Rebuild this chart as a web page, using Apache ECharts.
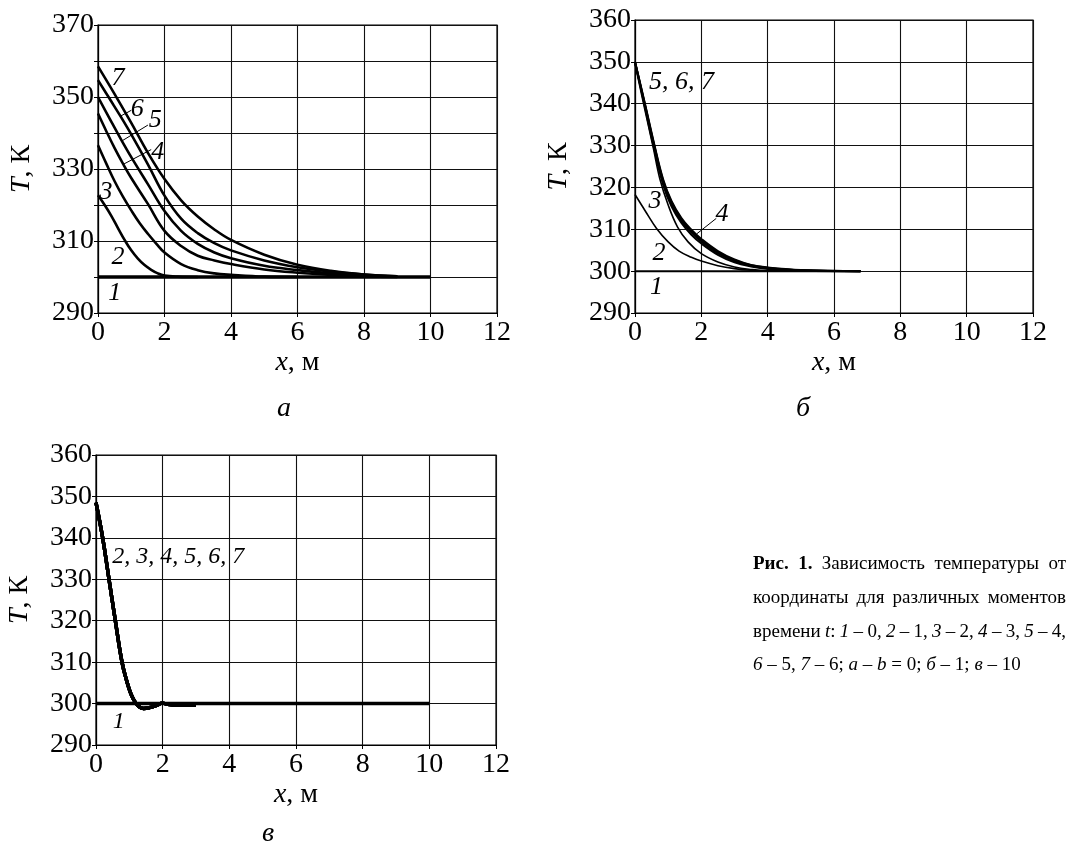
<!DOCTYPE html>
<html>
<head>
<meta charset="utf-8">
<script src="https://cdn.jsdelivr.net/npm/echarts/dist/echarts.min.js"></script>
<style>
  html, body { margin: 0; padding: 0; background: #fff; }
  #wrap { position: relative; width: 1069px; height: 857px; }
  #chart { position: absolute; left: 0; top: 0; width: 1069px; height: 857px; }
  .cap { position: absolute; left: 753px; width: 313px; font-family: "Liberation Serif", serif; font-size: 19px; line-height: 33.7px; color: #000; white-space: nowrap; }
</style>
</head>
<body>
<div id="wrap">
  <div id="chart"></div>
  <div class="cap just" style="top:546px"><span><b>Рис. 1.</b> Зависимость температуры от</span></div>
  <div class="cap just" style="top:580px"><span>координаты для различных моментов</span></div>
  <div class="cap just" style="top:614px"><span>времени <i>t</i>: <i>1</i> – 0, <i>2</i> – 1, <i>3</i> – 2, <i>4</i> – 3, <i>5</i> – 4,</span></div>
  <div class="cap" style="top:647px"><span><i>6</i> – 5, <i>7</i> – 6; <i>a</i> – <i>b</i> = 0; <i>б</i> – 1; <i>в</i> – 10</span></div>
</div>
<script>
// ---------- DATA ----------
// Panel а (b = 0): [x, T]
const a1 = [[0,300],[10,300]];
const a2 = [[0,322.7],[0.2,320],[0.4,317],[0.6,313.6],[0.8,310.3],[1.0,307.4],[1.2,305.1],[1.4,303.3],[1.6,302],[1.8,301],[2.0,300.4],[2.4,300.1],[3,300]];
const a3 = [[0,336.6],[0.25,331.5],[0.5,326.6],[0.75,322.3],[1,318.5],[1.25,315],[1.5,312],[1.75,309.3],[2,306.8],[2.5,303.6],[3,301.9],[3.5,301],[4,300.6],[5,300.1],[6,300]];
const a4 = [[0,345.4],[0.25,340.5],[0.5,335.8],[0.75,331.5],[1,327.5],[1.5,320.3],[2,312.8],[2.5,308.6],[3,305.9],[3.5,304.6],[4,303.6],[5,302.1],[6,301.2],[7,300.6],[8,300.2],[9,300]];
const a5 = [[0,350],[0.35,344],[0.7,338.1],[1,333.3],[1.5,325.8],[2,318.3],[2.5,312.8],[3,309.2],[3.5,306.8],[4,305.2],[5,303.1],[6,301.9],[7,301],[8,300.4],[9,300.1]];
const a6 = [[0,354.7],[0.35,349.5],[0.68,344.6],[1,339.6],[1.5,331.3],[2,322.6],[2.5,316.2],[3,312.2],[3.5,309.4],[4,307.4],[5,304.6],[6,302.7],[7,301.5],[8,300.7],[9,300.2]];
const a7 = [[0,358.5],[0.5,350.8],[1,342.8],[1.5,334.5],[2,327.2],[2.5,321.3],[3,316.8],[3.5,313.2],[4,310.3],[5,306.2],[6,303.4],[7,301.7],[8,300.7],[9,300.2]];

// Panel б (b = 1)
const b1 = [[0,300],[6.8,300]];
const b2 = [[0,318.3],[0.3,314.5],[0.65,310.2],[1,307],[1.33,304.8],[1.7,303.3],[2,302.4],[2.5,301.3],[3,300.6],[3.5,300.2],[4,300],[6.8,300]];
const b3 = [[0,349.5],[0.3,338.5],[0.55,329.5],[0.75,322],[1,315.8],[1.28,310.6],[1.6,307],[2,304.2],[2.5,302.2],[3,301],[3.5,300.4],[4,300.1],[6.8,300]];
const b4 = [[0,350],[0.3,339.2],[0.55,330.2],[0.85,320.6],[1.1,315.5],[1.4,311.5],[1.7,308.7],[2,306.6],[2.5,303.9],[3,302.1],[3.5,301.1],[4,300.5],[5,300.1],[6.8,300]];
const b5 = [[0,350],[0.3,339.6],[0.56,330.5],[0.85,321.2],[1.1,316.1],[1.4,312],[1.7,309.3],[2,307.1],[2.5,304.3],[3,302.4],[3.5,301.3],[4,300.7],[5,300.2],[6.8,300]];
const b6 = [[0,350],[0.3,339.8],[0.56,330.8],[0.85,321.6],[1.1,316.5],[1.4,312.4],[1.7,309.6],[2,307.4],[2.5,304.5],[3,302.6],[3.5,301.4],[4,300.8],[5,300.2],[6.8,300]];
const b7 = [[0,350],[0.3,340],[0.56,331],[0.85,321.9],[1.1,316.8],[1.4,312.7],[1.7,309.9],[2,307.7],[2.5,304.8],[3,302.8],[3.5,301.5],[4,300.9],[5,300.3],[6.8,300]];

// Panel в (b = 10): curves 2–7 coincide
const c1 = [[0,300],[10,300]];
const c2to7 = [[0,348.5],[0.2,340],[0.39,330],[0.58,320],[0.78,310],[0.92,305.5],[1.05,302.3],[1.18,300.3],[1.3,299.2],[1.43,298.8],[1.6,299],[1.8,299.5],[2.0,300.1],[2.15,299.8],[2.5,299.6],[3,299.6]];

// Curve number annotations: [x, T, text]
const aLabels = [[0.6,355.3,'7'],[1.18,346.5,'6'],[1.72,343.6,'5'],[1.8,334.8,'4'],[0.24,323.6,'3'],[0.6,305.4,'2'],[0.5,295.5,'1']];
const aLeaders = [[[0.66,344.6],[1.0,346.3]],[[0.72,337.8],[1.5,342.2]],[[0.76,331.3],[1.6,335.4]]];
const bLabels = [[1.4,345.2,'5, 6, 7'],[0.6,316.8,'3'],[2.62,313.6,'4'],[0.72,304.2,'2'],[0.65,296.2,'1']];
const bLeaders = [[[1.86,308.9],[2.45,312.6]]];
const cLabels = [[2.47,335.5,'2, 3, 4, 5, 6, 7'],[0.68,295.6,'1']];

// Axis ranges
const xRange = [0, 12, 2];
const yRangeA = [290, 370, 10];
const yRangeBC = [290, 360, 10];

// ---------- CHART ----------
const FONT = '"Liberation Serif", "Times New Roman", serif';
const chart = echarts.init(document.getElementById('chart'), null, { renderer: 'canvas' });

const grids = [
  { left: 98, top: 25, width: 399, height: 288 },
  { left: 635, top: 20, width: 398, height: 293 },
  { left: 96, top: 455, width: 400, height: 290 }
];

function xAxisFor(i) {
  return {
    gridIndex: i, type: 'value', min: xRange[0], max: xRange[1], interval: xRange[2],
    name: '{i|x}, м', nameLocation: 'middle', nameGap: 36,
    nameTextStyle: { fontFamily: FONT, fontSize: 28, color: '#000',
      rich: { i: { fontFamily: FONT, fontSize: 28, fontStyle: 'italic', color: '#000' } } },
    axisLine: { show: true, onZero: false, lineStyle: { color: '#000', width: 1.2 } },
    axisTick: { show: true, length: 4, lineStyle: { color: '#000' } },
    axisLabel: { fontFamily: FONT, fontSize: 28, color: '#000', margin: 6 },
    splitLine: { show: true, lineStyle: { color: '#111', width: 1.1 } }
  };
}
function yAxisFor(i, r, everyOther) {
  return {
    gridIndex: i, type: 'value', min: r[0], max: r[1], interval: r[2],
    name: '{i|T}, К', nameLocation: 'middle', nameGap: 62, nameRotate: 90,
    nameTextStyle: { fontFamily: FONT, fontSize: 28, color: '#000',
      rich: { i: { fontFamily: FONT, fontSize: 28, fontStyle: 'italic', color: '#000' } } },
    axisLine: { show: true, onZero: false, lineStyle: { color: '#000', width: 1.2 } },
    axisTick: { show: true, length: 4, lineStyle: { color: '#000' } },
    axisLabel: { fontFamily: FONT, fontSize: 28, color: '#000', margin: 4,
      formatter: v => (everyOther && (v - r[0]) % (2 * r[2]) !== 0) ? '' : String(v) },
    splitLine: { show: true, lineStyle: { color: '#111', width: 1.1 } }
  };
}

const series = [];
function curve(name, data, gi, width) {
  series.push({ name, type: 'line', xAxisIndex: gi, yAxisIndex: gi, data, smooth: 0.4,
    showSymbol: false, symbol: 'none', silent: true,
    lineStyle: { color: '#000', width } });
}
function labels(data, gi, size) {
  series.push({ type: 'scatter', xAxisIndex: gi, yAxisIndex: gi, data, symbolSize: 0.1,
    silent: true, itemStyle: { color: '#fff', opacity: 1 }, z: 5,
    label: { show: true, position: 'inside', formatter: p => p.value[2], opacity: 1,
      fontFamily: FONT, fontSize: size, fontStyle: 'italic', color: '#000', textBorderWidth: 0 } });
}
function leaders(list, gi) {
  list.forEach(seg => series.push({ type: 'line', xAxisIndex: gi, yAxisIndex: gi, data: seg,
    showSymbol: false, symbol: 'none', silent: true, lineStyle: { color: '#000', width: 1 } }));
}

// panel а
curve('1', a1, 0, 3.4);
curve('2', a2, 0, 2.6); curve('3', a3, 0, 2.6); curve('4', a4, 0, 2.6);
curve('5', a5, 0, 2.6); curve('6', a6, 0, 2.6); curve('7', a7, 0, 2.6);
labels(aLabels, 0, 26); leaders(aLeaders, 0);
// panel б
curve('1', b1, 1, 2); curve('2', b2, 1, 1.6); curve('3', b3, 1, 1.6);
curve('4', b4, 1, 2); curve('5', b5, 1, 2); curve('6', b6, 1, 2); curve('7', b7, 1, 2);
labels(bLabels, 1, 26); leaders(bLeaders, 1);
// panel в
curve('1', c1, 2, 3.6);
['2','3','4','5','6','7'].forEach(n => curve(n, c2to7, 2, 3.4));
labels(cLabels, 2, 24);

const option = {
  animation: false,
  backgroundColor: '#fff',
  grid: grids.map(g => Object.assign({ show: true, borderColor: '#000', borderWidth: 1.2, containLabel: false }, g)),
  xAxis: [xAxisFor(0), xAxisFor(1), xAxisFor(2)],
  yAxis: [yAxisFor(0, yRangeA, true), yAxisFor(1, yRangeBC, false), yAxisFor(2, yRangeBC, false)],
  series,
  graphic: [
    { type: 'text', left: 277, top: 395, style: { text: 'а', font: 'italic 28px ' + FONT, fill: '#000' } },
    { type: 'text', left: 796, top: 395, style: { text: 'б', font: 'italic 28px ' + FONT, fill: '#000' } },
    { type: 'text', left: 262, top: 820, style: { text: 'в', font: 'italic 28px ' + FONT, fill: '#000' } }
  ]
};
chart.setOption(option);

// justify caption lines to the full width
function justify() {
  document.querySelectorAll('.just').forEach(el => {
    const span = el.firstElementChild;
    span.style.wordSpacing = '0px';
    const w = span.getBoundingClientRect().width;
    const n = (span.textContent.match(/ /g) || []).length;
    if (n > 0) span.style.wordSpacing = ((313 - w) / n) + 'px';
  });
}
justify();
if (document.fonts && document.fonts.ready) document.fonts.ready.then(justify);
</script>
</body>
</html>
